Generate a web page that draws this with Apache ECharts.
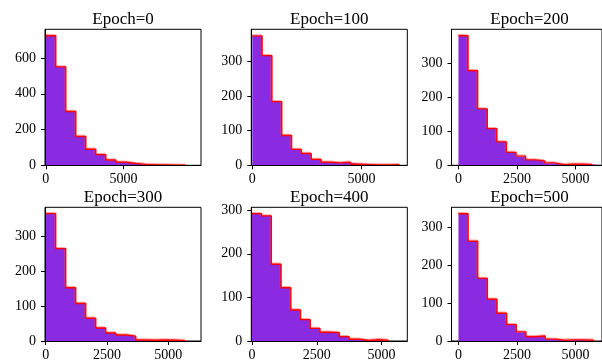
<!DOCTYPE html>
<html>
<head>
<meta charset="utf-8">
<script src="https://cdn.jsdelivr.net/npm/echarts@6/dist/echarts.min.js"></script>
<style>
html,body{margin:0;padding:0;background:#fff;}
#chart{width:602px;height:362px;}
</style>
</head>
<body>
<div id="chart"></div>
<script>
// ---- data ----
const titles = ["Epoch=0", "Epoch=100", "Epoch=200", "Epoch=300", "Epoch=400", "Epoch=500"];

// histogram bin start and bin width per panel
const binStart = [0, 0, 0, 0, 0, 0];
const binWidth = [645, 450, 410, 408, 375, 412];

// filled (purple) histogram counts
const counts0 = [725, 551, 301, 161, 90, 60, 28, 15, 9, 4, 4, 2, 2, 1, 1];
const counts100 = [374, 317, 184, 86, 44, 34, 16, 9, 6, 8, 3, 2, 1, 1, 1];
const counts200 = [381, 278, 166, 108, 69, 38, 25, 16, 12, 6, 2, 3, 3, 2, 1];
const counts300 = [364, 264, 152, 107, 65, 37, 23, 17, 13, 2, 2, 3, 2, 1];
const counts400 = [292, 287, 176, 122, 71, 49, 29, 20, 19, 10, 3, 1, 3, 2];
const counts500 = [335, 263, 165, 110, 73, 43, 23, 11, 13, 5, 2, 3, 3, 2];

// step outline (red) histogram counts
const outline0 = [725, 551, 301, 161, 90, 60, 30, 17, 10, 5, 3, 2, 1, 1];
const outline100 = [374, 317, 184, 86, 46, 34, 17, 9, 7, 9, 3, 2, 1, 1, 2];
const outline200 = [381, 278, 166, 108, 69, 38, 27, 16, 13, 7, 2, 3, 3, 2];
const outline300 = [364, 264, 152, 107, 65, 37, 23, 17, 14, 3, 2, 3, 2, 1];
const outline400 = [292, 287, 176, 122, 71, 49, 29, 20, 19, 10, 4, 1, 3, 2];
const outline500 = [335, 263, 165, 110, 73, 43, 24, 11, 13, 5, 2, 3, 3, 2];

// axis ranges and tick labels
const xMin = [-50, -45, -297, -28, -23, -297];
const xMax = [10000, 7100, 6130, 6330, 5990, 6130];
const xTicks = [[0, 5000], [0, 5000], [0, 2500, 5000], [0, 2500, 5000], [0, 2500, 5000], [0, 2500, 5000]];
const yMax = [761, 393, 400, 382, 306.6, 352];
const yTicks = [[0, 200, 400, 600], [0, 100, 200, 300], [0, 100, 200, 300], [0, 100, 200, 300], [0, 100, 200, 300], [0, 100, 200, 300]];

const allCounts = [counts0, counts100, counts200, counts300, counts400, counts500];
const allOutline = [outline0, outline100, outline200, outline300, outline400, outline500];

// ---- layout ----
const lefts = [45, 251.3, 451.5];
const tops = [29.3, 207.3];
const W = 156, H = 136;
const FONT = '"Liberation Serif", "Times New Roman", serif';

function stepData(start, w, c) {
  const d = [[start, 0]];
  for (let i = 0; i < c.length; i++) d.push([start + i * w, c[i]]);
  d.push([start + c.length * w, c[c.length - 1]]);
  d.push([start + c.length * w, 0]);
  return d;
}
const plain = v => String(v);

const grids = [], xAxes = [], yAxes = [], series = [], titleOpts = [];
for (let p = 0; p < 6; p++) {
  const col = p % 3, row = Math.floor(p / 3);
  grids.push({
    left: lefts[col], top: tops[row], width: W, height: H,
    show: true, borderColor: '#000', borderWidth: 1, backgroundColor: 'transparent',
    containLabel: false
  });
  titleOpts.push({
    text: titles[p], left: lefts[col] + W / 2, top: tops[row] - 18, textAlign: 'center', padding: 0,
    textStyle: { fontFamily: FONT, fontSize: 17, fontWeight: 'normal', color: '#000' }
  });
  xAxes.push({
    type: 'value', gridIndex: p, min: xMin[p], max: xMax[p], z: 5,
    axisLine: { show: true, onZero: false, lineStyle: { color: '#000', width: 1 } },
    axisTick: { show: true, inside: false, length: 4, customValues: xTicks[p], lineStyle: { color: '#000' } },
    axisLabel: { customValues: xTicks[p], formatter: plain, margin: 7, fontFamily: FONT, fontSize: 14, color: '#000' },
    splitLine: { show: false }
  });
  yAxes.push({
    type: 'value', gridIndex: p, min: 0, max: yMax[p], z: 5,
    axisLine: { show: true, onZero: false, lineStyle: { color: '#000', width: 1 } },
    axisTick: { show: true, inside: false, length: 4, customValues: yTicks[p], lineStyle: { color: '#000' } },
    axisLabel: { customValues: yTicks[p], formatter: plain, margin: 9, fontFamily: FONT, fontSize: 14, color: '#000' },
    splitLine: { show: false }
  });
  series.push({
    type: 'line', xAxisIndex: p, yAxisIndex: p, step: 'end', showSymbol: false, silent: true,
    data: stepData(binStart[p], binWidth[p], allCounts[p]),
    lineStyle: { width: 0 },
    areaStyle: { color: '#8A2BE2', opacity: 1 },
    z: 2
  });
  series.push({
    type: 'line', xAxisIndex: p, yAxisIndex: p, step: 'end', showSymbol: false, silent: true,
    data: stepData(binStart[p], binWidth[p], allOutline[p]).slice(1),
    lineStyle: { width: 1.4, color: '#ff0000', shadowColor: 'rgba(255,60,60,0.45)', shadowBlur: 0, shadowOffsetX: -1, shadowOffsetY: -1 },
    z: 3
  });
}

const chart = echarts.init(document.getElementById('chart'), null, { renderer: 'canvas' });
chart.setOption({
  animation: false,
  backgroundColor: '#fff',
  title: titleOpts,
  grid: grids,
  xAxis: xAxes,
  yAxis: yAxes,
  series: series
});
</script>
</body>
</html>
